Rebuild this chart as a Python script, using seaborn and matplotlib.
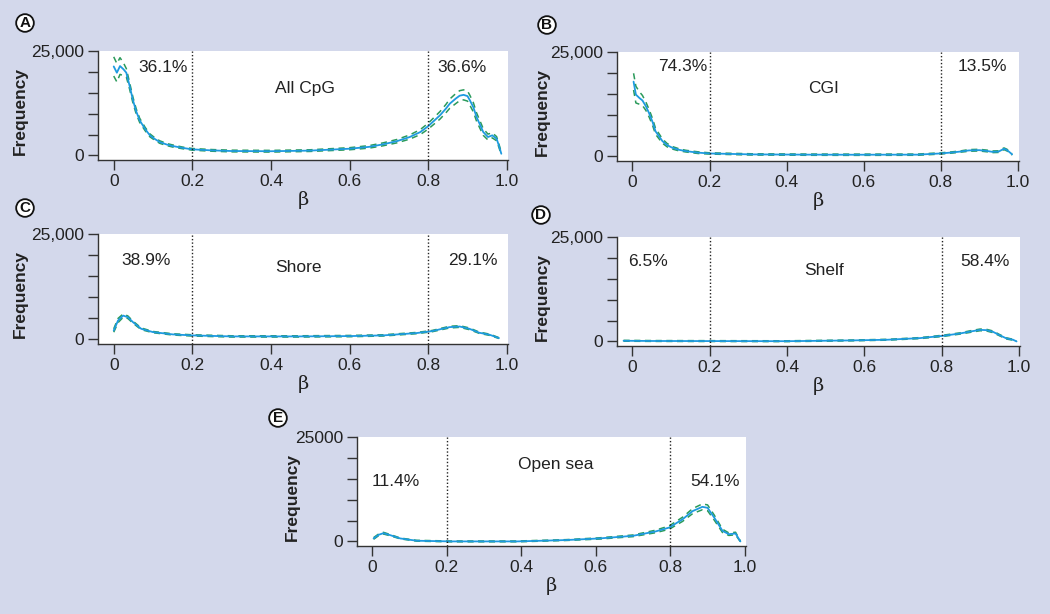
import numpy as np
import pandas as pd
import matplotlib
matplotlib.use("Agg")
import matplotlib.pyplot as plt
import seaborn as sns

# Beta-value density per CpG context: mean curve and half-width of the dashed band
xA = [0, 0.008, 0.016, 0.025, 0.032, 0.04, 0.049, 0.057, 0.066, 0.08, 0.092, 0.105, 0.117,
      0.135, 0.15, 0.175, 0.2, 0.25, 0.3, 0.4, 0.5, 0.6, 0.65, 0.685, 0.72, 0.753, 0.78, 0.8,
      0.815, 0.83, 0.845, 0.855, 0.87, 0.88, 0.89, 0.9, 0.906, 0.915, 0.923, 0.932, 0.94,
      0.952, 0.963, 0.974, 0.98, 0.986]
meanA = [21300, 19800, 21400, 20600, 19800, 16800, 13200, 10600, 8400, 6300, 4800, 3900, 3200,
         2600, 2250, 1800, 1450, 1200, 1050, 1000, 1150, 1600, 2050, 2650, 3400, 4400, 5600, 7000,
         8300, 9600, 11200, 12400, 13600, 14300, 14500, 14200, 13200, 11500, 9200, 7300, 5600,
         4400, 4800, 4000, 2300, 400]
hwA = [2300, 2200, 2000, 1500, 1000, 800, 700, 600, 500, 400, 350, 300, 300,
       250, 250, 200, 200, 200, 200, 200, 200, 250, 300, 350, 400, 500, 600, 700,
       800, 900, 1000, 1100, 1200, 1200, 1200, 1200, 1200, 1100, 1000, 900, 800,
       700, 600, 500, 400, 300]

xB = [0.003, 0.009, 0.018, 0.026, 0.035, 0.043, 0.052, 0.06, 0.07, 0.078, 0.09, 0.104, 0.12,
      0.138, 0.17, 0.2, 0.31, 0.45, 0.57, 0.74, 0.8, 0.83, 0.85, 0.873, 0.9, 0.92, 0.933,
      0.95, 0.964, 0.972, 0.98, 0.985]
meanB = [17900, 14800, 14000, 13400, 12000, 10400, 8300, 6000, 4700, 3650, 2700, 2050, 1600,
         1270, 900, 710, 480, 420, 400, 420, 710, 950, 1150, 1430, 1500, 1300, 1100,
         1150, 1830, 1500, 900, 480]
hwB = [2000, 2000, 1500, 1200, 1000, 900, 800, 700, 600, 500, 400, 300, 250,
       200, 200, 150, 150, 150, 150, 150, 150, 150, 150, 200, 200, 200, 200,
       200, 200, 200, 150, 150]

xC = [0.0, 0.011, 0.024, 0.036, 0.049, 0.07, 0.1, 0.15, 0.2, 0.3, 0.47, 0.6, 0.685, 0.77,
      0.81, 0.854, 0.88, 0.905, 0.93, 0.956, 0.98]
meanC = [2100, 4470, 5640, 5250, 4080, 2500, 1720, 1180, 940, 700, 700, 780, 940, 1490,
         1960, 2900, 3050, 2500, 1570, 1100, 310]
hwC = [400, 500, 400, 300, 250, 200, 150, 150, 150, 150, 150, 150, 150, 150,
       150, 200, 200, 200, 150, 150, 100]

xD = [-0.023, 0.054, 0.4, 0.57, 0.66, 0.744, 0.804, 0.847, 0.88, 0.9, 0.916, 0.933, 0.95,
      0.968, 0.985, 0.994]
meanD = [150, 100, 50, 240, 400, 790, 1340, 1890, 2450, 2760, 2700, 2300, 1500,
         710, 400, 0]
hwD = [100, 100, 100, 100, 100, 120, 150, 150, 200, 200, 200, 200, 150,
       150, 100, 100]

xE = [0.0045, 0.018, 0.031, 0.049, 0.076, 0.12, 0.21, 0.39, 0.52, 0.61, 0.7, 0.76, 0.797,
      0.833, 0.86, 0.886, 0.9, 0.918, 0.94, 0.957, 0.975, 0.988]
meanE = [710, 1580, 1970, 1500, 710, 160, 0, 0, 320, 710, 1340, 2370, 3310,
         5300, 7260, 8280, 8040, 5680, 2520, 1730, 1890, 0]
hwE = [200, 200, 200, 150, 100, 100, 100, 100, 100, 150, 200, 300, 400,
       500, 600, 700, 700, 600, 400, 300, 300, 100]

letters = ['A', 'B', 'C', 'D', 'E']
names = ['All CpG', 'CGI', 'Shore', 'Shelf', 'Open sea']
low_pct = ['36.1%', '74.3%', '38.9%', '6.5%', '11.4%']
high_pct = ['36.6%', '13.5%', '29.1%', '58.4%', '54.1%']
top_labels = ['25,000', '25,000', '25,000', '25,000', '25000']
x_ticks = [0, 0.2, 0.4, 0.6, 0.8, 1.0]
x_ticklabels = ['0', '0.2', '0.4', '0.6', '0.8', '1.0']
cutoffs = [0.2, 0.8]

series = [(xA, meanA, hwA), (xB, meanB, hwB), (xC, meanC, hwC),
          (xD, meanD, hwD), (xE, meanE, hwE)]

# layout (pixel boxes left, top, right, bottom) and text placements
boxes = [(98, 51, 508, 160), (617, 52, 1019, 161), (98, 234, 508, 344),
         (617, 237, 1020, 346), (357, 437, 746, 546)]
ylabel_px = [28, 550, 28, 550, 300]   # right edge of the rotated "Frequency"
letter_pos = [(25, 23), (547, 25), (25, 208), (541, 215), (278, 418)]
text_y = [(21150, 16100), (21500, 16350), (18700, 17000), (19240, 16960), (14350, 18450)]
text_x = [(0.125, 0.486, 0.885), (0.13, 0.497, 0.907), (0.083, 0.47, 0.914),
          (0.041, 0.496, 0.912), (0.064, 0.494, 0.92)]

BG = '#d3d8eb'
BLUE = '#1e9ae0'
GREEN = '#2a9a5a'
TXT = '#222222'
W, H = 1050, 614

sns.set_style('ticks')
plt.rcParams['font.family'] = ['Liberation Sans', 'DejaVu Sans']

fig = plt.figure(figsize=(W / 100, H / 100), dpi=100, facecolor=BG)

for i in range(5):
    l, t, r, b = boxes[i]
    ax = fig.add_axes([l / W, 1 - b / H, (r - l) / W, (b - t) / H])
    ax.set_facecolor('white')

    x, m, hw = series[i]
    df = pd.DataFrame({'beta': x, 'mean': m, 'hw': hw})
    df['upper'] = df['mean'] + df['hw']
    df['lower'] = df['mean'] - df['hw']

    for col in ['upper', 'lower']:
        sns.lineplot(data=df, x='beta', y=col, ax=ax, color=GREEN, lw=1.1,
                     linestyle=(0, (4, 3)), sort=False, estimator=None)
    sns.lineplot(data=df, x='beta', y='mean', ax=ax, color=BLUE, lw=1.3,
                 sort=False, estimator=None)

    for c in cutoffs:
        ax.axvline(c, color=TXT, lw=1, linestyle=(0, (1, 1.5)))

    ax.set_xlim(-0.04, 1.003)
    ax.set_ylim(-1100, 25000)
    ax.set_xticks(x_ticks)
    ax.set_xticklabels(x_ticklabels)
    ax.set_yticks(range(0, 25001, 5000))
    ax.set_yticklabels(['0', '', '', '', '', top_labels[i]])
    ax.tick_params(axis='both', direction='out', length=7, width=1, color='#333333',
                   labelsize=12.5, labelcolor=TXT, pad=3)

    for s in ['top', 'right']:
        ax.spines[s].set_visible(False)
    for s in ['left', 'bottom']:
        ax.spines[s].set_color('#333333')
        ax.spines[s].set_linewidth(1)

    ax.set_ylabel('Frequency', fontsize=12.5, fontweight='bold', color=TXT)
    ax.yaxis.set_label_coords((ylabel_px[i] - l) / (r - l), 0.45)
    ax.set_xlabel('β', fontsize=14, family='DejaVu Serif', color=TXT)
    ax.xaxis.set_label_coords(0.5, -0.28)

    tx = text_x[i]
    ty = text_y[i]
    ax.text(tx[0], ty[0], low_pct[i], ha='center', va='center', fontsize=12.5, color=TXT)
    ax.text(tx[1], ty[1], names[i], ha='center', va='center', fontsize=12.5, color=TXT)
    ax.text(tx[2], ty[0], high_pct[i], ha='center', va='center', fontsize=12.5, color=TXT)

    lx, ly = letter_pos[i]
    fig.text(lx / W, 1 - ly / H, letters[i], ha='center', va='center', fontsize=11,
             fontweight='bold', color='#111111',
             bbox=dict(boxstyle='circle,pad=0.12', fc='white', ec='#111111', lw=1.3))

fig.savefig('out.png', dpi=100, facecolor=BG)
